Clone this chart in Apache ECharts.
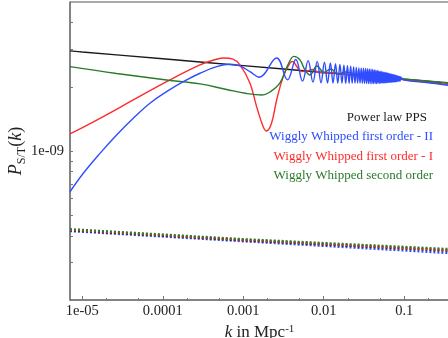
<!DOCTYPE html>
<html>
<head>
<meta charset="utf-8">
<script src="https://cdn.jsdelivr.net/npm/echarts@6.0.0/dist/echarts.min.js"></script>
<style>
  html, body { margin: 0; padding: 0; background: #fff; }
  #chart { width: 448px; height: 338px; }
</style>
</head>
<body>
<div id="chart"></div>
<script>
// P(k) in units of 1e-9, k in Mpc^-1
const kPower = [7.04e-6, 1e-5, 1e-4, 1e-3, 1e-2, 0.1, 0.36]
const pPower = [2.95, 2.915, 2.708, 2.515, 2.336, 2.171, 2.08]

const kFirstII = [
  7.04e-6, 1.03e-5, 1.66e-5, 2.67e-5, 4.30e-5, 6.93e-5, 1.117e-4, 1.80e-4, 2.90e-4, 4.67e-4, 6.84e-4, 9.1e-4, 1.21e-3, 1.58e-3,
  0.0026, 0.00355, 0.0045, 0.00545, 0.0064, 0.00735, 0.0083, 0.00925, 0.0102, 0.01115,
  0.0121, 0.01305, 0.014, 0.01495, 0.0159, 0.01685, 0.0178, 0.01875, 0.0197, 0.02065,
  0.0216, 0.02255, 0.0235, 0.02445, 0.0254, 0.02635, 0.0273, 0.02825, 0.0292, 0.03015,
  0.0311, 0.03205, 0.033, 0.03395, 0.0349, 0.03585, 0.0368, 0.03775, 0.0387, 0.03965,
  0.0406, 0.04155, 0.0425, 0.04345, 0.0444, 0.04535, 0.0463, 0.04725, 0.0482, 0.04915,
  0.0501, 0.05105, 0.052, 0.05295, 0.0539, 0.05485, 0.0558, 0.05675, 0.0577, 0.05865,
  0.0596, 0.06055, 0.0615, 0.06245, 0.0634, 0.06435, 0.0653, 0.06625, 0.0672, 0.06815,
  0.0691, 0.07005, 0.071, 0.07195, 0.0729, 0.07385, 0.0748, 0.07575, 0.0767, 0.07765,
  0.0786, 0.07955, 0.0805, 0.08145, 0.0824, 0.08335, 0.0843, 0.08525, 0.0862, 0.08715,
  0.0881, 0.08905, 0.09,
  0.1, 0.2, 0.36
]
const pFirstII = [
  0.644, 0.786, 0.975, 1.189, 1.424, 1.675, 1.898, 2.115, 2.316, 2.488, 2.553, 2.506, 2.357, 2.218,
  2.732, 2.156, 2.685, 2.127, 2.654, 2.106, 2.632, 2.091, 2.61, 2.086,
  2.587, 2.083, 2.565, 2.081, 2.545, 2.081, 2.527, 2.077, 2.514, 2.078,
  2.497, 2.080, 2.481, 2.082, 2.465, 2.083, 2.453, 2.084, 2.448, 2.080,
  2.443, 2.076, 2.437, 2.074, 2.430, 2.072, 2.424, 2.071, 2.418, 2.069,
  2.410, 2.071, 2.402, 2.071, 2.394, 2.072, 2.386, 2.075, 2.376, 2.078,
  2.367, 2.079, 2.359, 2.081, 2.350, 2.084, 2.343, 2.088, 2.334, 2.090,
  2.327, 2.092, 2.321, 2.096, 2.312, 2.098, 2.306, 2.100, 2.299, 2.102,
  2.293, 2.105, 2.286, 2.107, 2.280, 2.109, 2.273, 2.111, 2.268, 2.114,
  2.261, 2.116, 2.255, 2.119, 2.250, 2.121, 2.243, 2.125, 2.238, 2.127,
  2.232, 2.130, 2.226,
  2.15, 2.09, 2.03
]

const kFirstI = [7.04e-6, 1.66e-5, 4.30e-5, 1.117e-4, 2.90e-4, 4.67e-4, 5.75e-4, 7.45e-4, 9.1e-4, 1.21e-3, 1.466e-3, 1.77e-3, 1.95e-3, 2.25e-3, 2.60e-3, 3.14e-3, 3.80e-3, 4.1e-3, 4.6e-3, 5.3e-3, 6.2e-3, 7.2e-3, 9e-3, 0.012, 0.02, 0.05, 0.1, 0.2, 0.36]
const pFirstI = [1.202, 1.424, 1.735, 2.115, 2.534, 2.695, 2.73, 2.695, 2.534, 2.085, 1.615, 1.300, 1.241, 1.354, 1.735, 2.233, 2.58, 2.63, 2.50, 2.36, 2.37, 2.41, 2.33, 2.33, 2.28, 2.21, 2.16, 2.10, 2.04]

const kSecond = [7.04e-6, 2.67e-5, 1.117e-4, 2.90e-4, 6.22e-4, 1.10e-3, 1.71e-3, 2.15e-3, 2.86e-3, 3.59e-3, 4.26e-3, 5.06e-3, 5.85e-3, 6.75e-3, 8.24e-3, 0.01004, 0.01227, 0.0150, 0.01833, 0.0281, 0.0664, 0.36]
const pSecond = [2.488, 2.311, 2.154, 2.064, 1.944, 1.862, 1.832, 1.892, 2.085, 2.534, 2.778, 2.675, 2.401, 2.274, 2.506, 2.336, 2.426, 2.287, 2.349, 2.274, 2.202, 2.09]

// tensor spectra (dotted)
const kTensor = [7.04e-6, 1e-3, 0.36]
const tPower = [0.425, 0.381, 0.340]
const tFirstII = [0.421, 0.377, 0.332]
const tFirstI = [0.427, 0.383, 0.343]
const tSecond = [0.430, 0.386, 0.347]

const seriesNames = ['Power law PPS', 'Wiggly Whipped first order - II', 'Wiggly Whipped first order - I', 'Wiggly Whipped second order']
const seriesColors = ['#1a1a1a', '#2f4dff', '#ff2b2b', '#2a7a2a']

const xMajor = [1e-5, 1e-4, 1e-3, 1e-2, 0.1]
const xMajorLabels = ['1e-05', '0.0001', '0.001', '0.01', '0.1']
const xMinor = [2e-5, 5e-5, 2e-4, 5e-4, 2e-3, 5e-3, 2e-2, 5e-2, 0.2]
const yTicks = [0.2, 0.3, 0.4, 0.5, 0.6, 0.7, 0.8, 0.9, 1, 2, 3, 4]
const yLabelValues = [1]
const yLabels = ['1e-09']

const serif = '"Liberation Serif", "DejaVu Serif", serif'

const pairs = (ks, ps) => ks.map((k, i) => [k, ps[i]])

const chart = echarts.init(document.getElementById('chart'))

const solid = (name, ks, ps, color) => ({
  name,
  type: 'line',
  data: pairs(ks, ps),
  showSymbol: false,
  smooth: 0.4,
  lineStyle: { color, width: 1.4 },
  itemStyle: { color },
  silent: true,
  animation: false,
})

const dotted = (ks, ps, color) => ({
  type: 'line',
  data: pairs(ks, ps),
  showSymbol: false,
  lineStyle: { color, width: 2.2, type: [2, 2] },
  silent: true,
  animation: false,
})

const legendY = [118, 137, 156.5, 176]
const legendX = [427, 433, 433, 433]

const option = {
  backgroundColor: '#fff',
  animation: false,
  grid: {
    left: 70,
    right: -1,
    top: 2,
    bottom: 38,
    containLabel: false,
    outerBoundsMode: 'none',
    show: true,
    borderColor: '#555',
    borderWidth: 1,
    backgroundColor: '#fff',
  },
  xAxis: [
    {
      type: 'log',
      logBase: 10,
      min: 7.04e-6,
      max: 0.36,
      name: '{k|k}{t| in Mpc}{sup|-1}',
      nameLocation: 'middle',
      nameGap: 24,
      nameMoveOverlap: false,
      nameTextStyle: {
        rich: {
          k: { fontFamily: serif, fontStyle: 'italic', fontSize: 17, color: '#222', verticalAlign: 'top', lineHeight: 19 },
          t: { fontFamily: serif, fontSize: 17, color: '#222', verticalAlign: 'top', lineHeight: 19 },
          sup: { fontFamily: serif, fontSize: 11, color: '#222', verticalAlign: 'top', lineHeight: 11 },
        },
      },
      axisLine: { lineStyle: { color: '#777', width: 1.5 } },
      axisTick: { inside: true, length: 4, customValues: xMajor, lineStyle: { color: '#777' } },
      axisLabel: {
        customValues: xMajor,
        fontFamily: serif,
        fontSize: 14.5,
        color: '#222',
        margin: 4,
        formatter: (v) => {
          const i = xMajor.findIndex((m) => Math.abs(Math.log10(m) - Math.log10(v)) < 1e-3)
          return i >= 0 ? xMajorLabels[i] : ''
        },
      },
      splitLine: { show: false },
    },
    {
      type: 'log',
      logBase: 10,
      min: 7.04e-6,
      max: 0.36,
      position: 'bottom',
      axisLine: { show: false },
      axisTick: { inside: true, length: 2, customValues: xMinor, lineStyle: { color: '#777' } },
      axisLabel: { show: false },
      splitLine: { show: false },
    },
  ],
  yAxis: {
    type: 'log',
    logBase: 10,
    min: 0.2,
    max: 5,
    name: '{p|P}{s|S/T}{n|(}{k|k}{n|)}',
    nameLocation: 'middle',
    nameRotate: 90,
    nameGap: 43,
    nameMoveOverlap: false,
    nameTextStyle: {
      rich: {
        p: { fontFamily: serif, fontStyle: 'italic', fontSize: 18, color: '#222', verticalAlign: 'top', lineHeight: 20 },
        s: { fontFamily: serif, fontSize: 12, color: '#222', verticalAlign: 'top', lineHeight: 12, padding: [9, 0, 0, 0] },
        n: { fontFamily: serif, fontSize: 18, color: '#222', verticalAlign: 'top', lineHeight: 20 },
        k: { fontFamily: serif, fontStyle: 'italic', fontSize: 18, color: '#222', verticalAlign: 'top', lineHeight: 20 },
      },
    },
    axisLine: { lineStyle: { color: '#777', width: 1.5 } },
    axisTick: { inside: true, length: 3, customValues: yTicks, lineStyle: { color: '#777' } },
    axisLabel: {
      customValues: yLabelValues,
      fontFamily: serif,
      fontSize: 14.5,
      color: '#222',
      margin: 6,
      formatter: (v) => {
        const i = yLabelValues.findIndex((m) => Math.abs(m - v) < 1e-6)
        return i >= 0 ? yLabels[i] : ''
      },
    },
    splitLine: { show: false },
  },
  series: [
    dotted(kTensor, tFirstII, seriesColors[1]),
    dotted(kTensor, tPower, seriesColors[0]),
    dotted(kTensor, tFirstI, seriesColors[2]),
    dotted(kTensor, tSecond, seriesColors[3]),
    solid(seriesNames[0], kPower, pPower, seriesColors[0]),
    solid(seriesNames[2], kFirstI, pFirstI, seriesColors[2]),
    solid(seriesNames[3], kSecond, pSecond, seriesColors[3]),
    solid(seriesNames[1], kFirstII, pFirstII, seriesColors[1]),
  ],
  graphic: seriesNames.map((name, i) => ({
    type: 'text',
    x: legendX[i],
    y: legendY[i],
    silent: true,
    style: {
      text: name,
      fill: seriesColors[i],
      font: '13px ' + serif,
      align: 'right',
      verticalAlign: 'middle',
    },
  })),
}

chart.setOption(option)
window.addEventListener('resize', () => chart.resize())
</script>
</body>
</html>
